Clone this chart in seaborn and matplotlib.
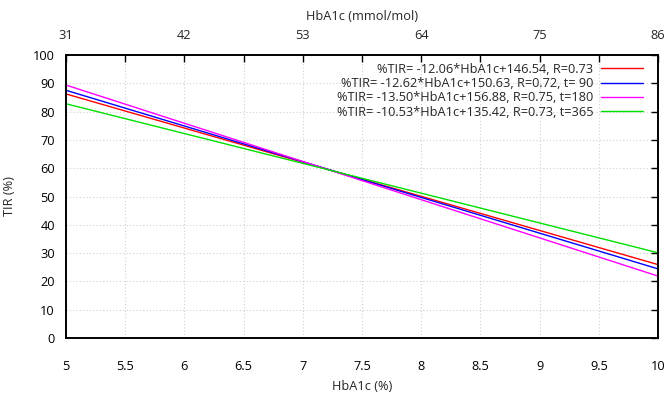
import numpy as np
import pandas as pd
import matplotlib
matplotlib.use("Agg")
import matplotlib.pyplot as plt
import seaborn as sns

# Data
slopes = [-12.06, -12.62, -13.50, -10.53]
intercepts = [146.54, 150.63, 156.88, 135.42]
labels = [
    "%TIR= -12.06*HbA1c+146.54, R=0.73",
    "%TIR= -12.62*HbA1c+150.63, R=0.72, t= 90",
    "%TIR= -13.50*HbA1c+156.88, R=0.75, t=180",
    "%TIR= -10.53*HbA1c+135.42, R=0.73, t=365",
]
colors = ["#ff0000", "#0000ff", "#ff00ff", "#00e000"]
x_range = [5, 10]
bottom_ticks = [5, 5.5, 6, 6.5, 7, 7.5, 8, 8.5, 9, 9.5, 10]
bottom_labels = ["5", "5.5", "6", "6.5", "7", "7.5", "8", "8.5", "9", "9.5", "10"]
top_ticks = [5, 6, 7, 8, 9, 10]
top_labels = ["31", "42", "53", "64", "75", "86"]
y_ticks = list(range(0, 101, 10))

rows = []
for s, b, lab in zip(slopes, intercepts, labels):
    for x in x_range:
        rows.append({"HbA1c": x, "TIR": s * x + b, "label": lab})
df = pd.DataFrame(rows)

sns.set_theme(style="white")
plt.rcParams["font.family"] = ["Open Sans", "DejaVu Sans"]

FS = 9.2

fig = plt.figure(figsize=(6.7, 3.93), dpi=100)
ax = fig.add_axes([66 / 670, 55 / 393, (658 - 66) / 670, (338 - 55) / 393])

sns.lineplot(data=df, x="HbA1c", y="TIR", hue="label", palette=colors,
             hue_order=labels, ax=ax, linewidth=1.0, legend=True)

ax.set_xlim(5, 10)
ax.set_ylim(0, 100)
ax.set_xticks(bottom_ticks)
ax.set_xticklabels(bottom_labels)
ax.set_yticks(y_ticks)
ax.grid(True, color="#d0d0d0", linestyle=(0, (1, 2)), linewidth=0.8)
for sp in ax.spines.values():
    sp.set_color("black")
    sp.set_linewidth(1.4)
ax.tick_params(axis="x", direction="in", length=5, width=1, pad=16,
               labelsize=FS, colors="black", top=True)
ax.tick_params(axis="y", direction="in", length=5, width=1, pad=8,
               labelsize=FS, colors="black", right=True)
ax.set_xlabel("HbA1c (%)", fontsize=FS, labelpad=5)
ax.set_ylabel("TIR (%)", fontsize=FS, labelpad=12)

sec = ax.secondary_xaxis("top")
sec.set_xticks(top_ticks)
sec.set_xticklabels(top_labels)
sec.tick_params(direction="in", length=0, pad=9, labelsize=FS)
sec.spines["top"].set_visible(False)
sec.set_xlabel("HbA1c (mmol/mol)", fontsize=FS, labelpad=7)

leg = ax.legend(loc="upper right", frameon=False, markerfirst=False,
                fontsize=FS, handlelength=3.3, labelspacing=0.1,
                bbox_to_anchor=(1 - 11 / 592, 1 - 4 / 283),
                borderaxespad=0.0, borderpad=0.3, handletextpad=0.6)

fig.savefig("out.png", dpi=100)
